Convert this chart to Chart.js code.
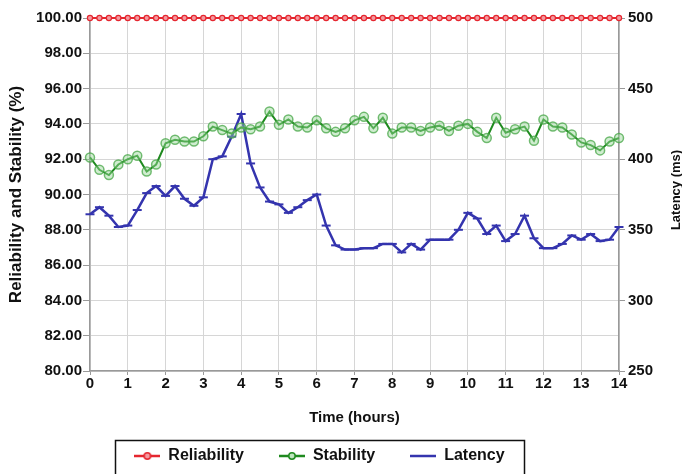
<!DOCTYPE html>
<html><head><meta charset="utf-8">
<script src="https://cdn.jsdelivr.net/npm/chart.js@4.4.0/dist/chart.umd.min.js"></script>
<style>html,body{margin:0;padding:0;background:#fff;overflow:hidden}</style>
</head><body>
<canvas id="c" width="682" height="474"></canvas>
<script>
const timeHours = [0,0.25,0.5,0.75,1,1.25,1.5,1.75,2,2.25,2.5,2.75,3,3.25,3.5,3.75,4,4.25,4.5,4.75,5,5.25,5.5,5.75,6,6.25,6.5,6.75,7,7.25,7.5,7.75,8,8.25,8.5,8.75,9,9.25,9.5,9.75,10,10.25,10.5,10.75,11,11.25,11.5,11.75,12,12.25,12.5,12.75,13,13.25,13.5,13.75,14];
const reliability = [100,100,100,100,100,100,100,100,100,100,100,100,100,100,100,100,100,100,100,100,100,100,100,100,100,100,100,100,100,100,100,100,100,100,100,100,100,100,100,100,100,100,100,100,100,100,100,100,100,100,100,100,100,100,100,100,100];
const stability = [92.1,91.4,91.1,91.7,92.0,92.2,91.3,91.7,92.9,93.1,93.0,93.0,93.3,93.85,93.65,93.45,93.8,93.7,93.85,94.7,93.95,94.25,93.85,93.8,94.2,93.75,93.55,93.75,94.2,94.4,93.75,94.35,93.45,93.8,93.8,93.6,93.8,93.9,93.6,93.9,94.0,93.55,93.2,94.35,93.5,93.7,93.85,93.05,94.25,93.85,93.8,93.4,92.95,92.8,92.5,93.0,93.2];
const latency = [361,366,360,352,353,364,376,381,374,381,372,367,373,400,402,416,432,397,380,370,368,362,366,371,375,353,339,336,336,337,337,340,340,334,340,336,343,343,343,350,362,358,347,353,342,347,360,344,337,337,340,346,343,347,342,343,352];
const xTickValues = [0,1,2,3,4,5,6,7,8,9,10,11,12,13,14];
const leftTickValues = [80,82,84,86,88,90,92,94,96,98,100];
const rightTickValues = [250,300,350,400,450,500];
const seriesNames = ['Reliability','Stability','Latency'];
const axisTitles = {x:'Time (hours)', left:'Reliability and Stability (%)', right:'Latency (ms)'};

const FONT = '"Liberation Sans", Arial, sans-serif';
const RED = '#e5262f', GREEN = '#1f8a1f', BLUE = '#3434ae';

function pts(vals){ return timeHours.map((t,i)=>({x:t,y:vals[i]})); }

function sample(color, marker, fill){
  const c = document.createElement('canvas'); c.width = 26; c.height = 12;
  const g = c.getContext('2d');
  g.strokeStyle = color; g.lineWidth = 2.5;
  g.beginPath(); g.moveTo(0,6); g.lineTo(26,6); g.stroke();
  if (marker){ g.lineWidth = 1.5; g.beginPath(); g.arc(13,6,3.2,0,Math.PI*2); g.fillStyle = fill; g.fill(); g.stroke(); }
  return c;
}
const samples = [sample(RED,true,'#f39aa0'), sample(GREEN,true,'#bfe6bf'), sample(BLUE,false)];

const fixTicks = vals => (scale)=>{ scale.ticks = vals.map(v=>({value:v})); };

const layoutPlugin = {
  id:'layoutFix',
  afterLayout(chart){
    const lg = chart.legend; const p = lg.options.labels.padding;
    lg.left = 60; lg.right = 579; lg.width = 519;
    lg.top = 456 - 8 - p; lg.bottom = lg.top + lg.height;
  },
  afterDraw(chart){
    const ctx = chart.ctx;
    ctx.save();
    ctx.strokeStyle = '#111'; ctx.lineWidth = 1.5;
    ctx.strokeRect(115.5, 440.5, 409, 40);
    ctx.translate(676, 190); ctx.rotate(-Math.PI/2);
    ctx.font = 'bold 13px ' + FONT; ctx.fillStyle = '#111';
    ctx.textAlign = 'center'; ctx.textBaseline = 'middle';
    ctx.fillText(axisTitles.right, 0, 0);
    ctx.restore();
  }
};

new Chart(document.getElementById('c'), {
  type:'line',
  data:{ datasets:[
    { label:seriesNames[0], data:pts(reliability), yAxisID:'y', borderColor:RED, borderWidth:2,
      pointRadius:2.6, pointBorderWidth:1.2, pointBorderColor:RED, pointBackgroundColor:'#f39aa0', clip:false, order:0 },
    { label:seriesNames[1], data:pts(stability), yAxisID:'y', borderColor:GREEN, borderWidth:2,
      pointRadius:4.5, pointBorderWidth:1.5, pointBorderColor:'rgba(70,165,70,0.75)', pointBackgroundColor:'rgba(150,215,150,0.45)', clip:false, order:1 },
    { label:seriesNames[2], data:pts(latency), yAxisID:'y2', borderColor:BLUE, borderWidth:2.5,
      pointStyle:'line', pointRadius:4.5, pointBorderWidth:2, pointBorderColor:BLUE, clip:false, order:2 }
  ]},
  options:{
    responsive:false, animation:false, devicePixelRatio:1,
    layout:{ padding:{ top:18, left:0, right:0, bottom:-18 } },
    plugins:{
      tooltip:{enabled:false},
      legend:{ position:'bottom', align:'center',
        labels:{ usePointStyle:true, pointStyleWidth:26, padding:35, color:'#111',
          font:{ family:FONT, size:16, weight:'bold' },
          generateLabels(chart){
            return chart.data.datasets.map((d,i)=>({ text:d.label, pointStyle:samples[i], fillStyle:d.borderColor,
              strokeStyle:d.borderColor, lineWidth:0, hidden:false, datasetIndex:i, fontColor:'#111' }));
          } } }
    },
    scales:{
      x:{ type:'linear', min:0, max:14,
        afterBuildTicks:fixTicks(xTickValues),
        afterFit(s){ s.height = 60; },
        grid:{ color:'#d6d6d6', lineWidth:1, tickLength:4, tickColor:'#999' },
        border:{ color:'#999', width:1.5 },
        ticks:{ padding:0, color:'#111', font:{family:FONT, size:15, weight:'bold'}, maxRotation:0, callback:v=>String(v) },
        title:{ display:true, text:axisTitles.x, color:'#111', padding:{top:4,bottom:4}, font:{family:FONT, size:15, weight:'bold'} }
      },
      y:{ position:'left', min:80, max:100,
        afterBuildTicks:fixTicks(leftTickValues),
        afterFit(s){ s.width = 90; },
        grid:{ color:'#d6d6d6', lineWidth:1, tickLength:7, tickColor:'#999' },
        border:{ color:'#999', width:1.5 },
        ticks:{ padding:1, color:'#111', font:{family:FONT, size:15, weight:'bold'}, callback:v=>Number(v).toFixed(2) },
        title:{ display:true, text:axisTitles.left, color:'#111', padding:{top:6,bottom:0}, font:{family:FONT, size:17, weight:'bold'} }
      },
      y2:{ position:'right', min:250, max:500,
        afterBuildTicks:fixTicks(rightTickValues),
        afterFit(s){ s.width = 63; },
        grid:{ drawOnChartArea:false, tickLength:6, tickColor:'#999' },
        border:{ color:'#999', width:1.5 },
        ticks:{ padding:3, color:'#111', font:{family:FONT, size:15, weight:'bold'}, callback:v=>String(v) }
      }
    }
  },
  plugins:[layoutPlugin]
});
</script>
</body></html>
